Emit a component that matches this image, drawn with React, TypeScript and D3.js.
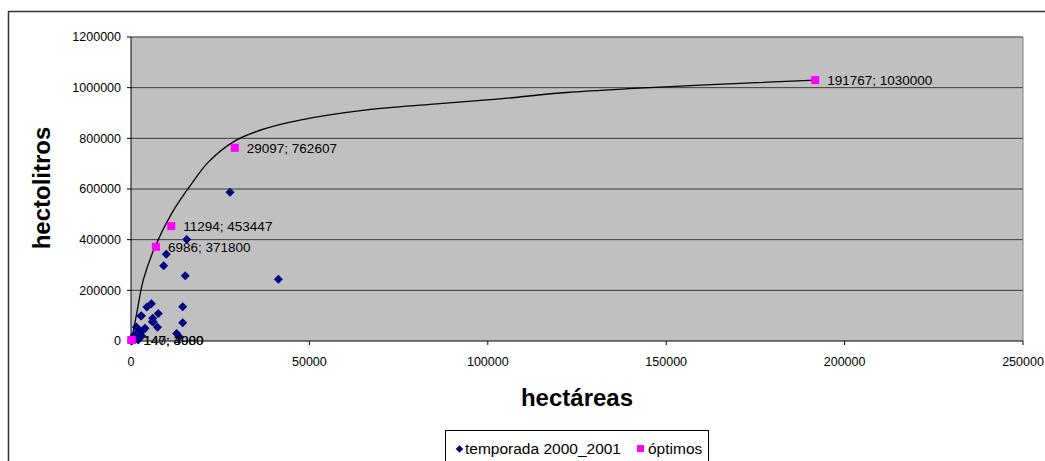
import React from "react";
import * as d3 from "d3";

const blueX = [27750, 15600, 9900, 9160, 15200, 41300, 5700, 4450, 14480, 2900, 7660, 6100, 6260, 14480, 7420, 1500, 3920, 2340, 12800, 13500, 650, 1120, 2000, 200, 3450, 2800, 5970, 1000, 3000, 400];
const blueY = [587000, 401000, 342000, 297000, 258000, 244000, 147000, 134000, 135000, 100000, 109000, 90000, 75000, 72000, 54000, 55000, 50000, 41000, 30000, 17000, 17000, 7000, 4000, 0, 43000, 99000, 76000, 25000, 20000, 8000];

const optX = [191767, 29097, 11294, 6986, 140, 147];
const optY = [1030000, 762607, 453447, 371800, 4000, 3980];
const optLabels = ["191767; 1030000", "29097; 762607", "11294; 453447", "6986; 371800", "140; 4000", "147; 3980"];

const trendX = [140, 1600, 3450, 6730, 11400, 17460, 21670, 29150, 37560, 47370, 66060, 84700, 103400, 122100, 140800, 159500, 191767];
const trendY = [0, 109000, 241000, 372000, 504000, 630000, 706000, 790000, 838000, 872000, 912000, 935000, 956000, 981000, 997000, 1010000, 1030000];

const yTicks = [0, 200000, 400000, 600000, 800000, 1000000, 1200000];
const xTicks = [0, 50000, 100000, 150000, 200000, 250000];

const FONT = "'Liberation Sans', Arial, sans-serif";

export default function App() {
  const W = 1045, H = 461;
  const left = 131, right = 1023, top = 37, bottom = 341;
  const x = d3.scaleLinear().domain([0, 250000]).range([left, right]);
  const y = d3.scaleLinear().domain([0, 1200000]).range([bottom, top]);

  const line = d3
    .line<number>()
    .x((_, i) => x(trendX[i]))
    .y((_, i) => y(trendY[i]))
    .curve(d3.curveCatmullRom.alpha(0.5));

  const diamond = (cx: number, cy: number, r = 4.5) =>
    `M${cx},${cy - r}L${cx + r},${cy}L${cx},${cy + r}L${cx - r},${cy}Z`;

  return (
    <div style={{ position: "absolute", left: 0, top: 0 }}>
      <svg width={W} height={H} style={{ display: "block", fontFamily: FONT }}>
        <rect x={0} y={0} width={W} height={H} fill="#fff" />
        {/* outer chart border */}
        <path d={`M8.5,${H}V11.5H${W}`} fill="none" stroke="#333" strokeWidth={1.5} />
        {/* plot area */}
        <rect x={left} y={top} width={right - left} height={bottom - top} fill="#C0C0C0" />
        {yTicks.slice(1).map((t) => (
          <line key={t} x1={left} x2={right} y1={y(t)} y2={y(t)} stroke="#3a3a3a" strokeWidth={1} />
        ))}
        <path d={`M${left},${top}H${right}V${bottom}`} fill="none" stroke="#808080" strokeWidth={1} />
        <line x1={left} x2={left} y1={top} y2={bottom} stroke="#000" strokeWidth={1} />
        <line x1={left} x2={right} y1={bottom} y2={bottom} stroke="#000" strokeWidth={1} />
        {yTicks.map((t) => (
          <g key={t}>
            <line x1={left - 4} x2={left} y1={y(t)} y2={y(t)} stroke="#000" />
            <text x={121} y={y(t)} dy="0.35em" textAnchor="end" fontSize={12.5} fill="#000">
              {t}
            </text>
          </g>
        ))}
        {xTicks.map((t) => (
          <g key={t}>
            <line x1={x(t)} x2={x(t)} y1={bottom} y2={bottom + 4} stroke="#000" />
            <text x={x(t)} y={366} textAnchor="middle" fontSize={12.5} fill="#000">
              {t}
            </text>
          </g>
        ))}
        {/* trend curve */}
        <path d={line(trendX) || ""} fill="none" stroke="#000" strokeWidth={1.3} />
        {/* blue points */}
        {blueX.map((v, i) => (
          <path key={i} d={diamond(x(v), y(blueY[i]))} fill="#000080" />
        ))}
        {/* optimum points */}
        {optX.map((v, i) => (
          <rect key={i} x={x(v) - 4} y={y(optY[i]) - 4} width={8} height={8} fill="#FF00FF" />
        ))}
        {optX.map((v, i) => (
          <text key={i} x={x(v) + 12} y={y(optY[i])} dy="0.38em" fontSize={13.5} fill="#000">
            {optLabels[i]}
          </text>
        ))}
        {/* axis titles */}
        <text
          transform={`translate(50,188) rotate(-90)`}
          textAnchor="middle"
          fontSize={24}
          fontWeight="bold"
          fill="#000"
        >
          hectolitros
        </text>
        <text x={577} y={406} textAnchor="middle" fontSize={24} fontWeight="bold" fill="#000">
          hectáreas
        </text>
        {/* legend */}
        <rect x={445.5} y={430.5} width={263} height={40} fill="#fff" stroke="#000" strokeWidth={1} />
        <path d={diamond(459.5, 449, 3.8)} fill="#000080" />
        <text x={465} y={454} fontSize={15.5} fill="#000">
          temporada 2000_2001
        </text>
        <rect x={637} y={445} width={7} height={7} fill="#FF00FF" />
        <text x={648} y={454} fontSize={15.5} fill="#000">
          óptimos
        </text>
      </svg>
    </div>
  );
}
